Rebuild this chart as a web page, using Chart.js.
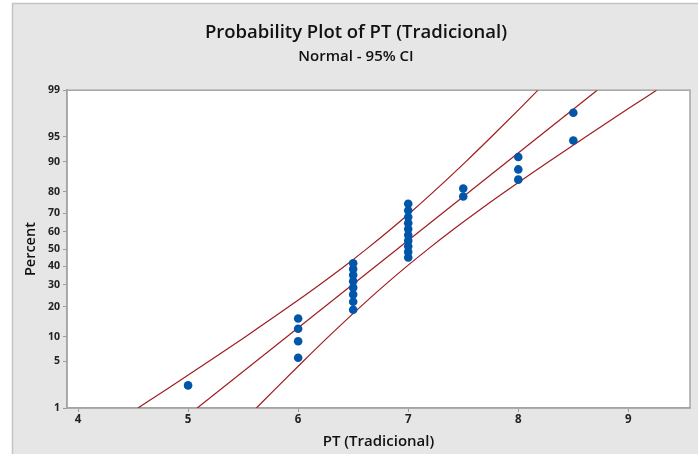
<!doctype html>
<html>
<head>
	<title>Probability Plot of PT (Tradicional)</title>
	<script src="https://cdn.jsdelivr.net/npm/chart.js@4/dist/chart.umd.min.js"></script>
	<style>
		html, body { margin: 0; padding: 0; background: #fff; }
		canvas { display: block; }
	</style>
</head>
<body>
	<canvas id="canvas" width="699" height="454"></canvas>
	<script>
		// observed PT values (sorted) and their plotted percent positions
		var ptValues = [5, 6, 6, 6, 6, 6.5, 6.5, 6.5, 6.5, 6.5, 6.5, 6.5, 6.5,
			7, 7, 7, 7, 7, 7, 7, 7, 7, 7, 7.5, 7.5, 8, 8, 8, 8.5, 8.5];
		var ptPercent = [2.30, 5.59, 8.88, 12.17, 15.46, 18.75, 22.04, 25.33, 28.62, 31.91,
			35.20, 38.49, 41.78, 45.07, 48.36, 51.64, 54.93, 58.22, 61.51, 64.80, 68.09,
			71.38, 74.67, 77.96, 81.25, 84.54, 87.83, 91.12, 94.41, 97.70];

		// fitted line and 95% CI bands
		var fitPercent = [1, 99];
		var fitValues = [5.083, 8.717];
		var bandPercent = [1, 2, 5, 10, 20, 30, 40, 50, 60, 70, 80, 90, 95, 98, 99];
		var bandLower = [4.545, 4.803, 5.186, 5.522, 5.917, 6.192, 6.418, 6.620, 6.814, 7.012, 7.232, 7.524, 7.756, 8.011, 8.179];
		var bandUpper = [5.621, 5.789, 6.044, 6.276, 6.568, 6.789, 6.986, 7.180, 7.382, 7.608, 7.883, 8.279, 8.614, 8.997, 9.256];

		var percentTicks = [1, 5, 10, 20, 30, 40, 50, 60, 70, 80, 90, 95, 99];
		var xTicks = [4, 5, 6, 7, 8, 9];

		// inverse normal cdf (Acklam), used for the probability scale
		function probit(p) {
			var a = [-3.969683028665376e+01, 2.209460984245205e+02, -2.759285104469687e+02, 1.383577518672690e+02, -3.066479806614716e+01, 2.506628277459239e+00];
			var b = [-5.447609879822406e+01, 1.615858368580409e+02, -1.556989798598866e+02, 6.680131188771972e+01, -1.328068155288572e+01];
			var c = [-7.784894002430293e-03, -3.223964580411365e-01, -2.400758277161838e+00, -2.549732539343734e+00, 4.374664141464968e+00, 2.938163982698783e+00];
			var d = [7.784695709041462e-03, 3.224671290700398e-01, 2.445134137142996e+00, 3.754408661907416e+00];
			var pl = 0.02425, q, r;
			if (p < pl) {
				q = Math.sqrt(-2 * Math.log(p));
				return (((((c[0]*q+c[1])*q+c[2])*q+c[3])*q+c[4])*q+c[5]) / ((((d[0]*q+d[1])*q+d[2])*q+d[3])*q+1);
			}
			if (p > 1 - pl) {
				q = Math.sqrt(-2 * Math.log(1 - p));
				return -(((((c[0]*q+c[1])*q+c[2])*q+c[3])*q+c[4])*q+c[5]) / ((((d[0]*q+d[1])*q+d[2])*q+d[3])*q+1);
			}
			q = p - 0.5; r = q * q;
			return (((((a[0]*r+a[1])*r+a[2])*r+a[3])*r+a[4])*r+a[5])*q / (((((b[0]*r+b[1])*r+b[2])*r+b[3])*r+b[4])*r+1);
		}

		function toPoints(xs, pcts) {
			return xs.map(function (x, i) { return { x: x, y: probit(pcts[i] / 100) }; });
		}

		var lineColor = 'rgb(160, 28, 34)';
		var dotColor = 'rgb(0, 86, 168)';
		var font = "'Open Sans', 'Noto Sans', sans-serif";
		var zMax = probit(0.99);

		var panelPlugin = {
			id: 'panel',
			beforeDraw: function (chart) {
				var ctx = chart.ctx, a = chart.chartArea;
				ctx.save();
				ctx.fillStyle = '#ffffff';
				ctx.fillRect(0, 0, chart.width, chart.height);
				ctx.fillStyle = '#e6e6e6';
				ctx.fillRect(12, 3, chart.width - 13, chart.height - 3);
				ctx.strokeStyle = '#c4c4c4';
				ctx.lineWidth = 1.5;
				ctx.beginPath();
				ctx.moveTo(12.5, chart.height);
				ctx.lineTo(12.5, 3.5);
				ctx.lineTo(chart.width - 1, 3.5);
				ctx.stroke();
				ctx.fillStyle = '#ffffff';
				ctx.fillRect(a.left, a.top, a.right - a.left, a.bottom - a.top);
				ctx.restore();
			},
			beforeDatasetsDraw: function (chart) {
				var ctx = chart.ctx, a = chart.chartArea;
				ctx.save();
				ctx.strokeStyle = '#a4a4a4';
				ctx.lineWidth = 1.5;
				ctx.strokeRect(a.left, a.top, a.right - a.left, a.bottom - a.top);
				ctx.restore();
			}
		};

		var bandLine = function (xs, pcts) {
			return {
				data: toPoints(xs, pcts),
				showLine: true,
				borderColor: lineColor,
				borderWidth: 1.2,
				pointRadius: 0,
				cubicInterpolationMode: 'monotone',
				fill: false
			};
		};

		new Chart(document.getElementById('canvas').getContext('2d'), {
			type: 'scatter',
			data: {
				datasets: [{
					label: 'PT (Tradicional)',
					data: toPoints(ptValues, ptPercent),
					backgroundColor: dotColor,
					borderColor: dotColor,
					pointRadius: 4.3,
					borderWidth: 0
				},
				bandLine(fitValues, fitPercent),
				bandLine(bandLower, bandPercent),
				bandLine(bandUpper, bandPercent)]
			},
			options: {
				responsive: false,
				animation: false,
				layout: { padding: { left: 22, right: 9, top: 10, bottom: 3 } },
				plugins: {
					legend: { display: false },
					tooltip: { enabled: false },
					title: {
						display: true,
						text: 'Probability Plot of PT (Tradicional)',
						color: '#111',
						font: { family: font, size: 18.5, weight: 600, lineHeight: 1.2 },
						padding: { top: 12, bottom: 1 }
					},
					subtitle: {
						display: true,
						text: 'Normal - 95% CI',
						color: '#111',
						font: { family: font, size: 15, weight: 600, lineHeight: 1.2 },
						padding: { top: 3, bottom: 24 }
					}
				},
				scales: {
					x: {
						type: 'linear',
						min: 3.9,
						max: 9.56,
						afterBuildTicks: function (scale) {
							scale.ticks = xTicks.map(function (v) { return { value: v }; });
						},
						afterFit: function (scale) { scale.height = 43; },
						grid: { drawOnChartArea: false, drawTicks: true, tickLength: 4, color: '#9a9a9a' },
						border: { display: true, color: '#a4a4a4', width: 1.5 },
						ticks: {
							padding: 1,
							color: '#222',
							font: { family: font, size: 11.5, weight: 'bold' },
							maxRotation: 0
						},
						title: {
							display: true,
							text: 'PT (Tradicional)',
							color: '#111',
							font: { family: font, size: 15, weight: 600, lineHeight: 1.2 },
							padding: { top: 1, bottom: 0 }
						}
					},
					y: {
						type: 'linear',
						min: -zMax,
						max: zMax,
						afterBuildTicks: function (scale) {
							scale.ticks = percentTicks.map(function (p) { return { value: probit(p / 100) }; });
						},
						afterFit: function (scale) { scale.width = 45; },
						grid: { drawOnChartArea: false, drawTicks: true, tickLength: 4, color: '#9a9a9a' },
						border: { display: true, color: '#a4a4a4', width: 1.5 },
						ticks: {
							padding: 3,
							color: '#222',
							font: { family: font, size: 10.5, weight: 'bold' },
							callback: function (value, index) { return percentTicks[index]; }
						},
						title: {
							display: true,
							text: 'Percent',
							color: '#111',
							font: { family: font, size: 14.5, weight: 600, lineHeight: 1.2 },
							padding: 0
						}
					}
				}
			},
			plugins: [panelPlugin]
		});
	</script>
</body>
</html>
